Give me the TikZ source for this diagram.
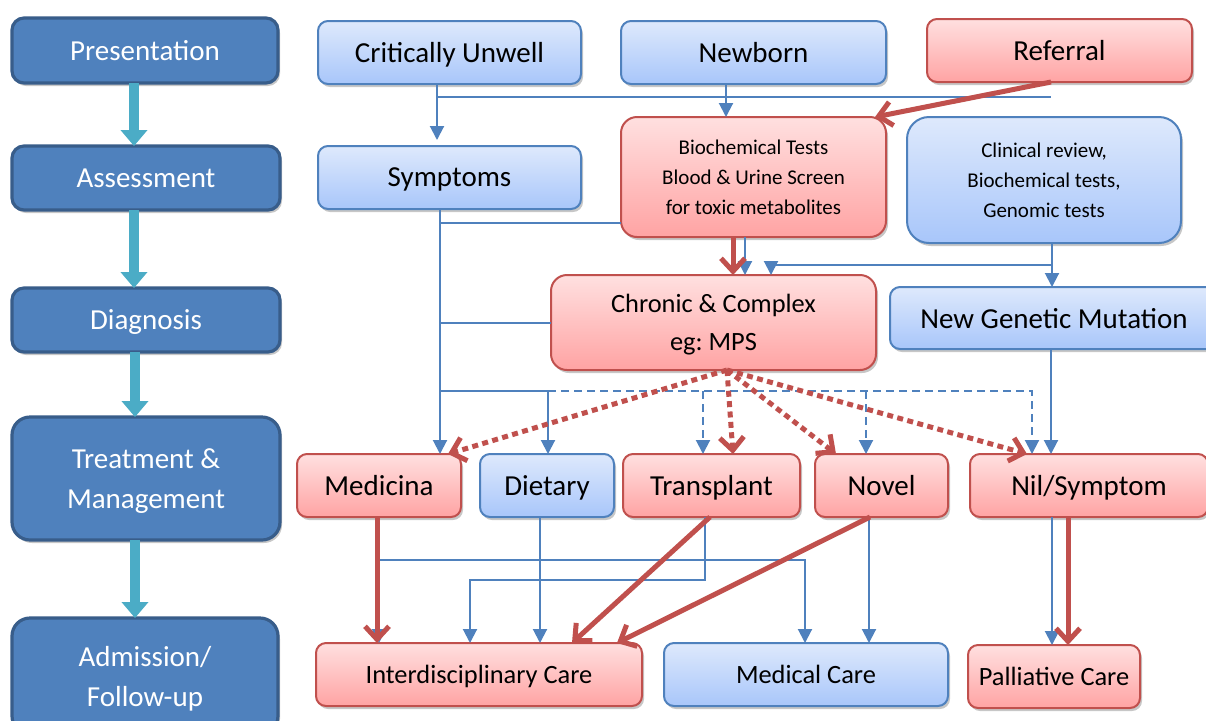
\documentclass[tikz,border=0pt]{standalone}
\usepackage{fontspec}
\setmainfont{Carlito}
\usetikzlibrary{arrows.meta,shadows}

\definecolor{bluec}{RGB}{79,129,189}
\definecolor{bluedark}{RGB}{56,93,138}
\definecolor{redc}{RGB}{192,80,77}
\definecolor{tealc}{RGB}{75,172,198}
\definecolor{bluetop}{RGB}{222,233,252}
\definecolor{bluebot}{RGB}{168,198,250}
\definecolor{redtop}{RGB}{255,224,224}
\definecolor{redbot}{RGB}{255,163,163}

\newcommand\sizeL{\fontsize{14.5pt}{20pt}\selectfont}
\newcommand\sizeM{\fontsize{13.2pt}{19pt}\selectfont}
\newcommand\sizeS{\fontsize{10.5pt}{15pt}\selectfont}

\begin{document}
\frenchspacing
\begin{tikzpicture}[x=0.5pt,y=-0.5pt,
  shadowed/.style={drop shadow={shadow xshift=1pt,shadow yshift=-1.5pt,opacity=0.22,fill=black}},
  sz/.style 2 args={minimum width=#1pt, minimum height=#2pt},
  boxbase/.style={inner sep=0pt, outer sep=0pt, align=center, text depth=0pt,
    line width=1pt, rounded corners=5pt, shadowed},
  bluebox/.style={boxbase, draw=bluec, top color=bluetop, bottom color=bluebot},
  redbox/.style={boxbase, draw=redc, top color=redtop, bottom color=redbot},
  stagebox/.style={inner sep=0pt, outer sep=0pt, align=center, text depth=0pt, line width=1.6pt,
    rounded corners=6pt, draw=bluedark, fill=bluec, text=white, shadowed, font=\sizeL},
  stagearrow/.style={draw=tealc, line width=5pt, -{Triangle[length=8pt,width=13pt]}},
  bline/.style={draw=bluec, line width=1pt},
  barrow/.style={bline, -{Triangle[length=7pt,width=7pt]}},
  bdash/.style={barrow, dash pattern=on 4pt off 2.5pt},
  rarrow/.style={draw=redc, line width=2.5pt, -{Straight Barb[length=6.5pt,width=12pt]}},
  rdot/.style={rarrow, dash pattern=on 3pt off 2.2pt}
]
\clip (0,0) rectangle (1206,720);
\fill[white] (0,0) rectangle (1206,720);

% stages of care
\node[stagebox, sz={133}{32.5}] (pres)   at (145,50.5) {Presentation};
\node[stagebox, sz={134}{32}]   (assess) at (146,178)  {Assessment};
\node[stagebox, sz={134}{32}]   (diag)   at (146,320)  {Diagnosis};
\node[stagebox, rounded corners=9pt, sz={134}{61.5}] (treat) at (146,478.5) {Treatment \&\\Management};
\node[stagebox, rounded corners=9pt, sz={133}{58}]   (admit) at (145,676)   {Admission/\\Follow-up};

\draw[stagearrow] (pres.south -| 134,0)   -- (assess.north -| 134,0);
\draw[stagearrow] (assess.south -| 134,0) -- (diag.north -| 134,0);
\draw[stagearrow] (diag.south -| 135,0)   -- (treat.north -| 135,0);
\draw[stagearrow] (treat.south -| 135,0)  -- (admit.north -| 135,0);

% presentation row
\node[bluebox, font=\sizeL, sz={131.5}{31.5}] (crit)  at (449.5,52.5)  {Critically Unwell};
\node[bluebox, font=\sizeL, sz={132.5}{31.5}] (newb)  at (753.5,52.5)  {Newborn};
\node[redbox,  font=\sizeL, sz={132.5}{31.5}] (refer) at (1059.5,50.5) {Referral};

% assessment row
\node[bluebox, font=\sizeL, sz={131.5}{31.5}] (symp) at (449.5,177.5) {Symptoms};
\node[redbox, rounded corners=8pt, font=\sizeS, sz={132.5}{60}] (bio) at (753.5,177)
  {Biochemical Tests\\Blood \& Urine Screen\\for toxic metabolites};
\node[bluebox, rounded corners=11pt, font=\sizeS, sz={137}{63}] (clin) at (1044,180)
  {Clinical review,\\Biochemical tests,\\Genomic tests};

% diagnosis row
\node[redbox, rounded corners=8pt, font=\sizeM, sz={162.5}{47.5}] (chron) at (713.5,322.5) {Chronic \& Complex\\eg: MPS};
\node[bluebox, font=\sizeL, sz={164}{31}] (ngm) at (1054,318) {New Genetic Mutation};

% treatment row
\node[redbox,  font=\sizeL, sz={82}{31.5}]   (med)   at (379,485.5)   {Medicina};
\node[bluebox, font=\sizeL, sz={67}{31.5}]   (diet)  at (547,485.5)   {Dietary};
\node[redbox,  font=\sizeL, sz={88.5}{31.5}] (trans) at (711.5,485.5) {Transplant};
\node[redbox,  font=\sizeL, sz={66.5}{31.5}] (novel) at (881.5,485.5) {Novel};
\node[redbox,  font=\sizeL, sz={119}{31.5}]  (nil)   at (1089,485.5)  {Nil/Symptom};

% follow-up row
\node[redbox,  font=\sizeM, sz={163}{31.5}] (inter) at (479,674.5)  {Interdisciplinary Care};
\node[bluebox, font=\sizeM, sz={142}{31.5}] (medc)  at (806,674.5)  {Medical Care};
\node[redbox,  font=\sizeM, sz={86}{31.5}]  (pall)  at (1054,676.5) {Palliative Care};

% bus points
\coordinate (bus)  at (1051,97);
\coordinate (tb)   at (548,391);
\coordinate (dend) at (1032,391);

% presentation -> assessment
\draw[bline]  (crit.south -| 437,0) |- (bus);
\draw[barrow, shorten >=3pt] (crit.south -| 437,0) -- (symp.north -| 437,0);
\draw[barrow] (newb.south -| 726,0) -- (bio.north -| 726,0);

% symptoms trunk
\draw[barrow] (symp.south -| 440,0) -- (med.north -| 440,0);
\draw[bline]  (symp.south -| 440,0) |- (bio.west |- 0,223);
\draw[bline]  (symp.south -| 440,0) |- (chron.west);
\draw[barrow] (symp.south -| 440,0) |- (tb) -- (diet.north -| tb);
\draw[bdash]  (tb) -| (nil.north -| dend);
\draw[bdash]  (tb -| 703,0) -- (trans.north -| 703,0);
\draw[bdash]  (tb -| 866,0) -- (novel.north -| 866,0);

% assessment -> diagnosis
\draw[barrow] (bio.south -| 745,0) -- (chron.north -| 745,0);
\draw[barrow] (clin.south -| 1052,0) -- (ngm.north -| 1052,0);
\draw[barrow] (clin.south -| 1052,0) -- (1052,265) -| (chron.north -| 771,0);
\draw[barrow] (ngm.south -| 1051,0) -- (nil.north -| 1051,0);

% treatment -> follow-up
\draw[barrow] (med.south -| 379,0) -- (inter.north -| 379,0);
\draw[barrow] (med.south -| 379,0) -- (379,560) -| (medc.north -| 805,0);
\draw[barrow] (diet.south -| 540,0) -- (inter.north -| 540,0);
\draw[barrow] (trans.south -| 705,0) |- (470,580) -- (inter.north -| 470,0);
\draw[barrow] (novel.south -| 869,0) -- (medc.north -| 869,0);
\draw[barrow] (nil.south -| 1052,0) -- (pall.north -| 1052,0);

% main pathway
\draw[rarrow] (refer.south -| 1051,0) -- (bio.north -| 875,0);
\draw[rarrow] (bio.south -| 733,0) -- (chron.north -| 733,0);
\draw[rdot] (chron.south -| 727,0) -- (med.north -| 448,0);
\draw[rdot] (chron.south -| 727,0) -- (trans.north -| 733,0);
\draw[rdot] (chron.south -| 727,0) -- (novel.north -| 836,0);
\draw[rdot] (chron.south -| 727,0) -- (nil.north -| 1027,0);
\draw[rarrow] (med.south -| 377,0) -- (inter.north -| 377,0);
\draw[rarrow] (trans.south -| 710,0) -- (inter.north -| 572,0);
\draw[rarrow] (novel.south -| 870,0) -- (inter.north -| 617,0);
\draw[rarrow] (nil.south -| 1068,0) -- (pall.north -| 1068,0);
\end{tikzpicture}
\end{document}
